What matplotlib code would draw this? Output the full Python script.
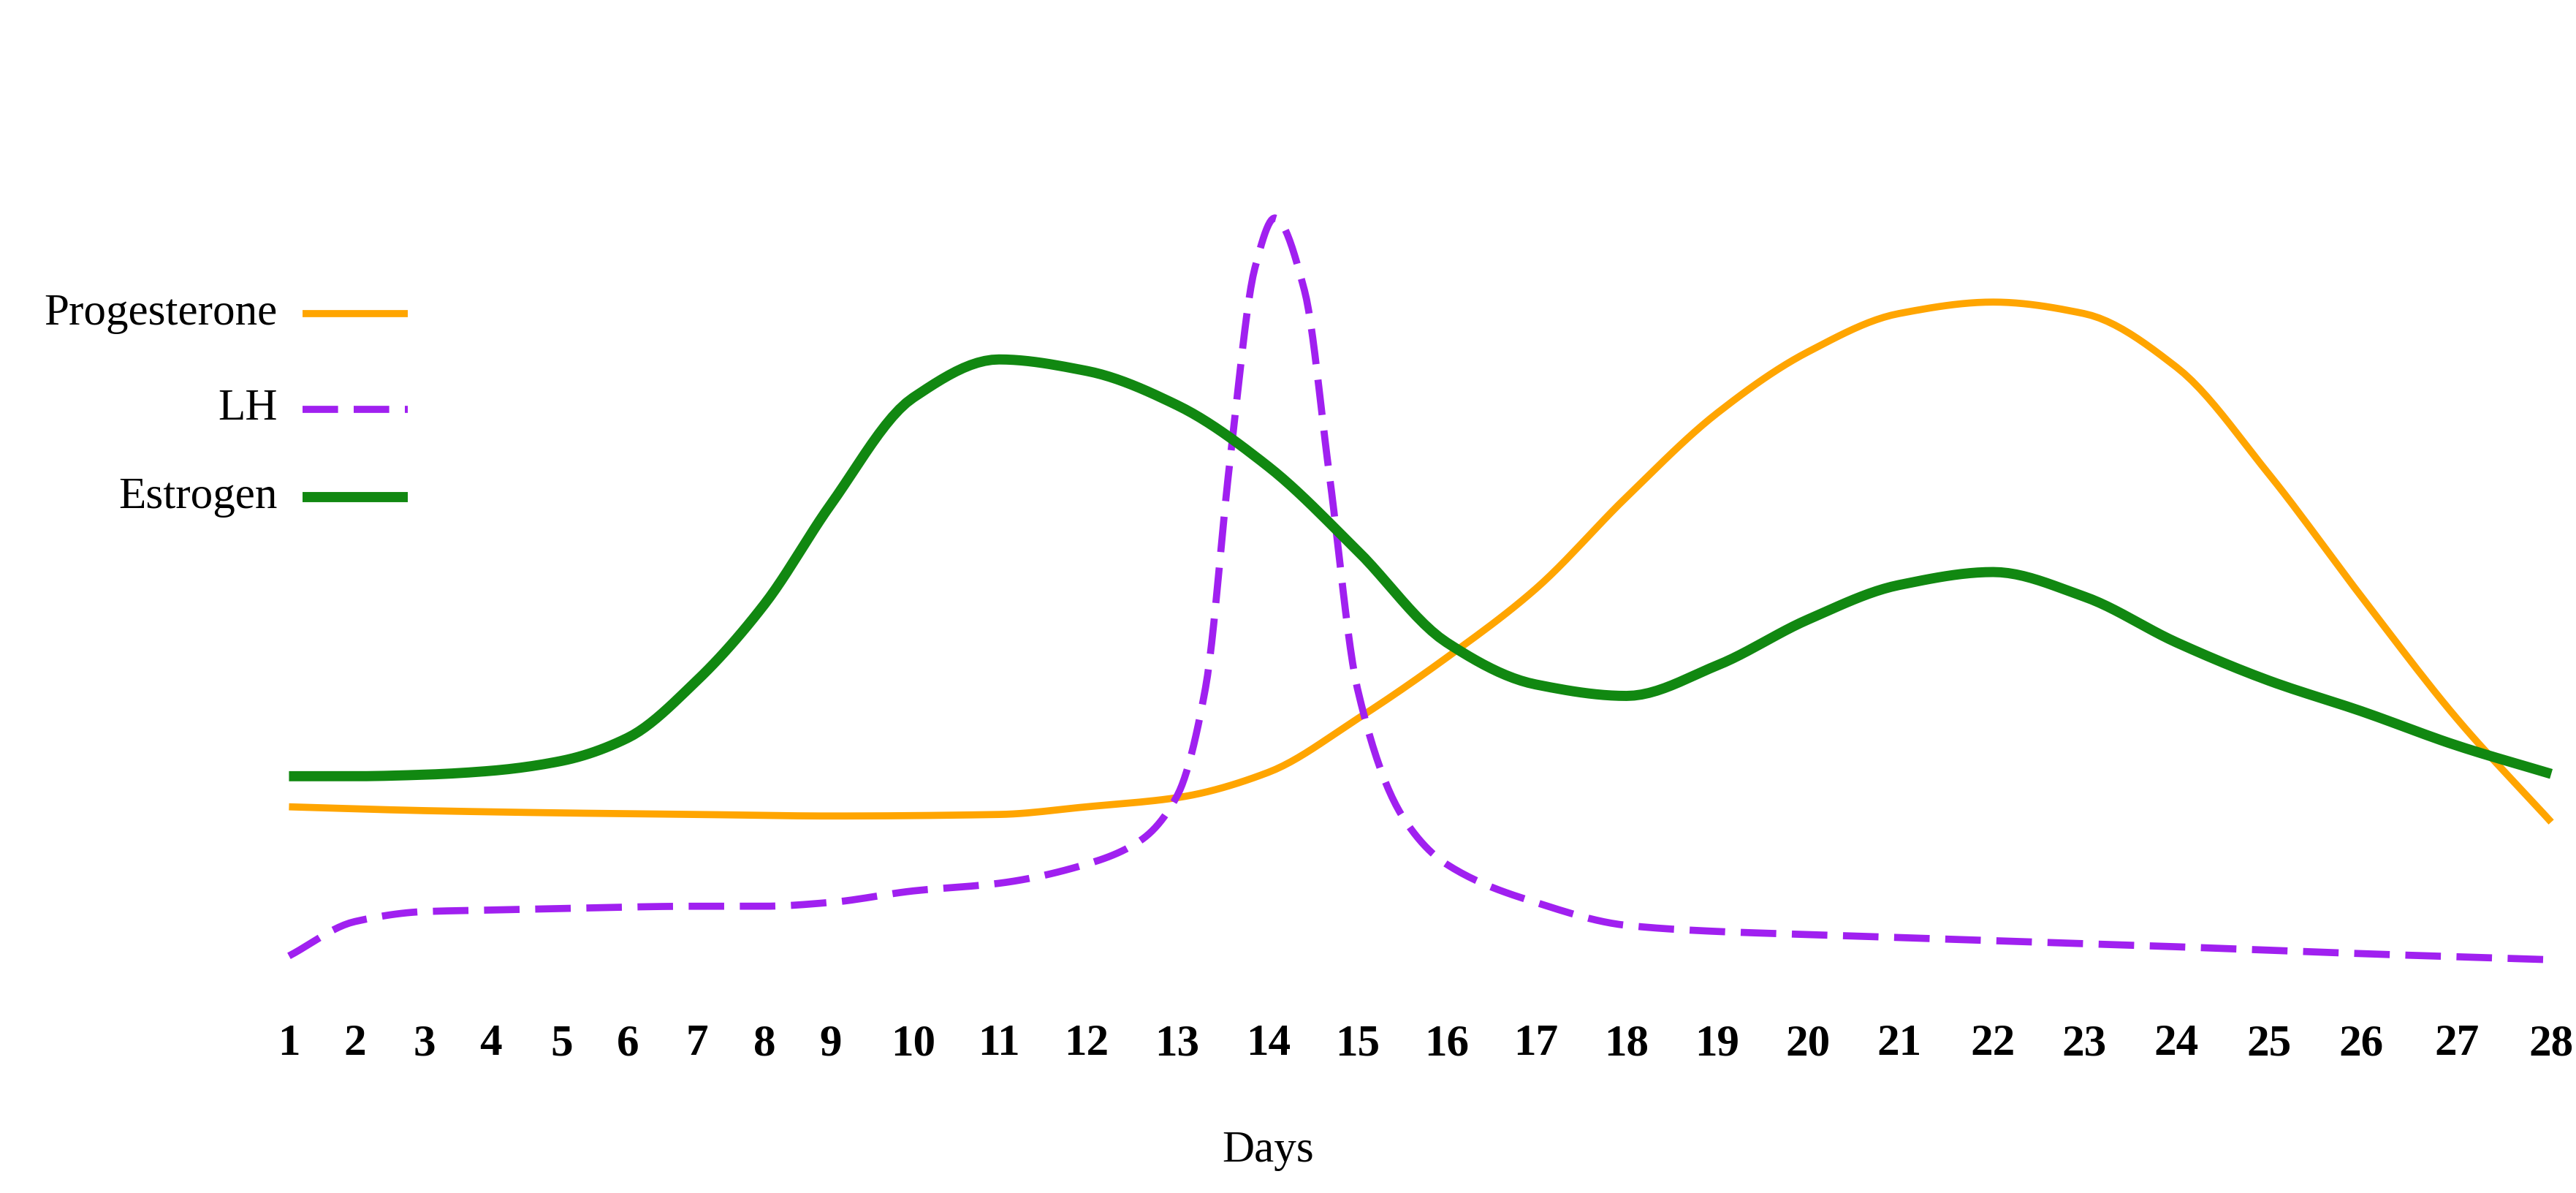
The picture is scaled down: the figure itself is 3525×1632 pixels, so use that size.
import numpy as np
import matplotlib
matplotlib.use("Agg")
import matplotlib.pyplot as plt

# day labels and where each tick sits along the axis (spacing is uneven in the original)
days = list(range(1, 29))
tick_pos = [175, 215, 257, 297, 340, 380, 422, 463, 503, 553, 605, 658, 713, 768,
            822, 876, 930, 985, 1040, 1095, 1150, 1207, 1262, 1318, 1374, 1430, 1488, 1545]

# hormone levels (arbitrary units), x in axis units
estrogen_x = [175, 215, 257, 297, 340, 380, 422, 463, 503, 553, 605, 658, 713, 768,
              822, 876, 930, 985, 1040, 1095, 1150, 1207, 1262, 1318, 1374, 1430, 1488, 1545]
estrogen_y = [28.5, 28.5, 28.7, 29.2, 30.5, 33.5, 41, 51, 64, 78, 83, 81.5, 77, 69,
              58, 46, 40.5, 39, 43, 49, 53.5, 55.2, 52, 46, 41, 37, 32.5, 28.8]

prog_x = [175, 257, 340, 422, 503, 605, 658, 713, 768, 822, 876, 930, 985, 1040,
          1095, 1150, 1207, 1262, 1318, 1374, 1430, 1488, 1545]
prog_y = [24.5, 24, 23.7, 23.5, 23.3, 23.5, 24.5, 25.7, 29, 36, 44, 53, 65, 76,
          84, 89, 90.5, 89, 82, 68, 52, 36, 22.5]

lh_x = [175, 215, 257, 297, 340, 422, 463, 503, 553, 605, 658, 690, 713, 730, 745,
        760, 772, 790, 805, 822, 850, 876, 930, 985, 1040, 1095, 1207, 1318, 1430, 1545]
lh_y = [5, 9.5, 10.8, 11, 11.2, 11.5, 11.5, 12, 13.5, 14.5, 17, 20, 26, 40, 70,
        95, 101.5, 92, 68, 40, 23, 17, 12, 9, 8.2, 7.8, 7, 6.2, 5.3, 4.5]

orange = "#ffa500"
purple = "#a020f0"
green = "#118811"


def smooth(x, y, n=12):
    # monotone cubic (Fritsch-Carlson) just to draw a smooth curve through the read points
    x = np.asarray(x, float)
    y = np.asarray(y, float)
    h = np.diff(x)
    d = np.diff(y) / h
    m = np.zeros_like(y)
    m[0], m[-1] = d[0], d[-1]
    for i in range(1, len(y) - 1):
        if d[i - 1] * d[i] > 0:
            w1 = 2 * h[i] + h[i - 1]
            w2 = h[i] + 2 * h[i - 1]
            m[i] = (w1 + w2) / (w1 / d[i - 1] + w2 / d[i])
    xs, ys = [], []
    for i in range(len(h)):
        t = np.linspace(0, 1, n, endpoint=False)
        h00 = 2 * t**3 - 3 * t**2 + 1
        h10 = t**3 - 2 * t**2 + t
        h01 = -2 * t**3 + 3 * t**2
        h11 = t**3 - t**2
        xs.append(x[i] + t * h[i])
        ys.append(h00 * y[i] + h10 * h[i] * m[i] + h01 * y[i + 1] + h11 * h[i] * m[i + 1])
    xs.append([x[-1]])
    ys.append([y[-1]])
    return np.concatenate(xs), np.concatenate(ys)


fig = plt.figure(figsize=(35.25, 16.32), dpi=100)
ax = fig.add_axes([0, 0, 1, 1])
ax.set_xlim(0, 1560)
ax.set_ylim(-26, 130)
ax.axis("off")

ax.plot(*smooth(prog_x, prog_y), color=orange, lw=7, solid_capstyle="butt")
ax.plot(*smooth(lh_x, lh_y), color=purple, lw=7, dashes=(5, 2.2))
ax.plot(*smooth(estrogen_x, estrogen_y), color=green, lw=10, solid_capstyle="butt")

serif = ["Liberation Serif", "DejaVu Serif"]
for d, p in zip(days, tick_pos):
    ax.text(p, -6.5, str(d), ha="center", va="center", fontsize=44,
            fontweight="bold", family=serif)
ax.text(768, -20.5, "Days", ha="center", va="center", fontsize=44, family=serif)

# hand-made legend on the left
legend = [("Progesterone", orange, 7, None, 89),
          ("LH", purple, 7, (5, 2.2), 76.5),
          ("Estrogen", green, 10, None, 65)]
for label, col, lw, dash, lvl in legend:
    ax.text(168, lvl, label, ha="right", va="center", fontsize=44, family=serif)
    ln, = ax.plot([183, 247], [lvl, lvl], color=col, lw=lw, solid_capstyle="butt")
    if dash:
        ln.set_dashes(dash)

fig.savefig("out.png", dpi=100)
